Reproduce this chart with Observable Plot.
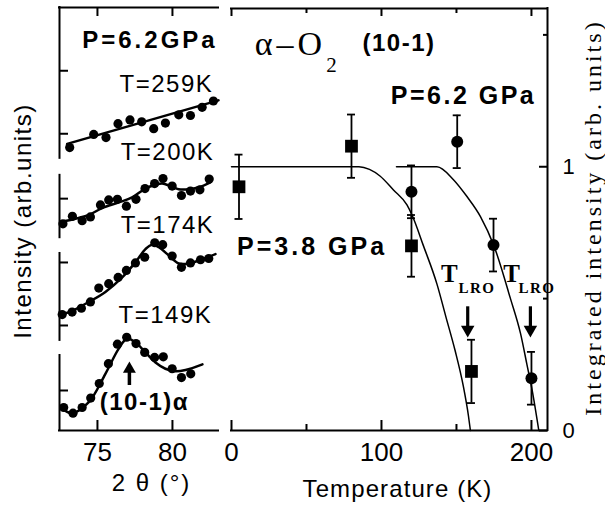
<!DOCTYPE html>
<html><head><meta charset="utf-8">
<script src="https://cdn.jsdelivr.net/npm/d3@7"></script>
<script src="https://cdn.jsdelivr.net/npm/@observablehq/plot@0.6"></script>
<style>
body{margin:0;background:#fff;}
#chart{position:relative;width:605px;height:505px;overflow:hidden;background:#fff;}
#chart svg{position:absolute;left:0;top:0;overflow:visible;}
</style></head><body><div id="chart"></div>
<script>
// ---------- LEFT PANEL DATA: diffraction scans at P=6.2GPa (2θ in °, intensity offset per scan) ----------
const scanNames = ["T=259K", "T=200K", "T=174K", "T=149K"];
const theta259 = [73.15, 74.75, 75.57, 76.37, 77.17, 77.95, 78.75, 79.53, 80.42, 81.2, 81.98, 82.73];
const int259   = [4.49, 4.70, 4.65, 4.87, 4.93, 4.90, 4.79, 4.88, 5.01, 5.00, 5.13, 5.23];
const fitTheta259 = [72.98, 83.07];
const fitInt259   = [4.55, 5.24];

const theta200 = [72.70, 73.33, 73.98, 74.53, 75.2, 75.75, 76.33, 76.93, 77.57, 78.17, 78.81, 79.37, 79.98, 80.6, 81.2, 81.83, 82.45];
const int200   = [3.28, 3.40, 3.33, 3.39, 3.58, 3.66, 3.67, 3.56, 3.67, 3.84, 3.92, 4.00, 3.88, 3.73, 3.80, 3.82, 3.99];
const fitTheta200 = [72.53, 73.53, 74.42, 75.31, 76.42, 77.31, 78.2, 78.87, 79.31, 79.87, 80.42, 81.09, 81.75, 82.53];
const fitInt200   = [3.31, 3.36, 3.42, 3.53, 3.62, 3.70, 3.84, 3.90, 3.92, 3.88, 3.83, 3.83, 3.86, 3.94];

const theta174 = [72.65, 73.31, 73.93, 74.53, 75.09, 75.75, 76.38, 76.93, 77.53, 78.15, 78.82, 79.35, 79.98, 80.6, 81.2, 81.87, 82.42];
const int174   = [1.84, 1.88, 1.94, 2.04, 2.26, 2.33, 2.43, 2.54, 2.66, 2.75, 2.98, 2.95, 2.77, 2.59, 2.66, 2.71, 2.73];
const fitTheta174 = [72.5, 73.31, 74.42, 75.53, 76.65, 77.53, 78.2, 78.65, 79.09, 79.75, 80.42, 81.09, 81.87, 82.87];
const fitInt174   = [1.83, 1.90, 2.04, 2.20, 2.43, 2.67, 2.88, 2.95, 2.91, 2.78, 2.65, 2.65, 2.71, 2.80];

const theta149 = [72.75, 73.37, 73.98, 74.55, 75.12, 75.73, 76.33, 76.95, 77.57, 78.15, 78.81, 79.39, 79.98, 80.6, 81.22];
const int149   = [0.365, 0.275, 0.365, 0.515, 0.746, 1.06, 1.37, 1.48, 1.38, 1.24, 1.16, 1.17, 0.98, 0.84, 0.90];
const fitTheta149 = [72.53, 73.31, 74.42, 75.53, 76.42, 76.98, 77.53, 78.2, 78.87, 79.53, 80.2, 80.87, 82.0];
const fitInt149   = [0.37, 0.275, 0.45, 0.90, 1.30, 1.46, 1.40, 1.24, 1.08, 0.98, 0.94, 0.96, 1.05];

const thetaDomain = [72.47, 83.07];
const leftIntDomain = [0, 6.714];
const leftAxisSegments = [[4.32, 6.714], [3.06, 4.05], [1.43, 2.81], [0, 1.19]];
const leftIntTicks = [5.71, 4.71, 3.68, 2.667, 1.667, 0.635];
const thetaTicks = [75, 80];

// ---------- RIGHT PANEL DATA: integrated intensity vs temperature ----------
const temp38 = [5, 80, 120, 160];
const int38  = [0.924, 1.078, 0.70, 0.224];
const err38  = [0.122, 0.12, 0.117, 0.12];
const temp62 = [120, 150.5, 174.7, 200];
const int62  = [0.905, 1.095, 0.703, 0.198];
const err62  = [0.10, 0.10, 0.10, 0.10];
const fitTemp38 = [0, 85, 92, 99, 108, 117, 120.5, 128, 137, 143, 149, 154.5, 158, 159.3];
const fitInt38  = [1, 1, 0.99, 0.965, 0.912, 0.855, 0.815, 0.70, 0.555, 0.43, 0.305, 0.17, 0.055, 0];
const fitTemp62 = [110, 137, 148, 157, 166, 175, 186, 192.7, 197, 200.4, 204.9];
const fitInt62  = [1, 1, 0.951, 0.887, 0.811, 0.70, 0.50, 0.368, 0.25, 0.155, 0];
const tempDomain = [0, 210.7];
const rightIntDomain = [0, 1.6];
const tempTickLabels = [0, 100, 200];
const tempMinorTicks = [50, 150];
const intTickLabels = [0, 1];
const intMinorTicks = [0.5, 1.5];

// ---------- build tables ----------
const scanDots = [[theta259, int259], [theta200, int200], [theta174, int174], [theta149, int149]]
  .flatMap(([t, v], k) => t.map((x, i) => ({scan: scanNames[k], theta: x, int: v[i]})));
const scanFits = [[fitTheta259, fitInt259], [fitTheta200, fitInt200], [fitTheta174, fitInt174], [fitTheta149, fitInt149]]
  .flatMap(([t, v], k) => t.map((x, i) => ({scan: scanNames[k], theta: x, int: v[i]})));

const pts38 = temp38.map((T, i) => ({T, I: int38[i], lo: int38[i] - err38[i], hi: int38[i] + err38[i]}));
const pts62 = temp62.map((T, i) => ({T, I: int62[i], lo: int62[i] - err62[i], hi: int62[i] + err62[i]}));
const allPts = pts38.concat(pts62);
const caps = allPts.flatMap(d => [{T: d.T, v: d.lo}, {T: d.T, v: d.hi}]);
const fits = fitTemp38.map((T, i) => ({s: "3.8", T, I: fitInt38[i]}))
  .concat(fitTemp62.map((T, i) => ({s: "6.2", T, I: fitInt62[i]})));

const SANS = "Liberation Sans, Arial, Helvetica, sans-serif";
const SERIF = "Liberation Serif, Times New Roman, serif";
const W = 605, H = 505;
const spacing = {
  "P=6.2GPa": 3, "P=6.2 GPa": 2.5, "P=3.8 GPa": 3, "(10-1)": 1.5, "(10-1)α": 1.5,
  "T=259K": 1.5, "T=200K": 1.5, "T=174K": 1.5, "T=149K": 1.5,
  "α–O": 4, "LRO": 1.5, "Integrated intensity (arb. units)": 3, "2 θ (°)": 2,
  "Intensity (arb.units)": 1.5, "Temperature (K)": 1.1
};
const label = (text, x, y, o = {}) => Plot.text([text], {x: () => x, y: () => y, text: d => d, fill: "black", lineAnchor: "middle", textAnchor: "middle", ...o});

// ---------- left panel ----------
const frameH = 430 - 7, frameWL = 218 - 59;
const left = Plot.plot({
  width: W, height: H, marginLeft: 59, marginRight: W - 218, marginTop: 7, marginBottom: H - 430,
  style: {fontFamily: SANS, fontSize: "26px", background: "transparent", color: "black"},
  x: {domain: thetaDomain},
  y: {domain: leftIntDomain, axis: null},
  marks: [
    Plot.ruleY([leftIntDomain[0], leftIntDomain[1]], {stroke: "black", strokeWidth: 2, strokeLinecap: "square"}),
    Plot.ruleX(leftAxisSegments, {x: () => thetaDomain[0], y1: d => d[0], y2: d => d[1], stroke: "black", strokeWidth: 2, strokeLinecap: "square"}),
    Plot.ruleY(leftIntTicks, {insetRight: frameWL - 9, stroke: "black", strokeWidth: 2}),
    Plot.ruleX(thetaTicks, {insetTop: frameH - 10, stroke: "black", strokeWidth: 2}),
    Plot.ruleX(thetaTicks, {insetBottom: frameH - 9, stroke: "black", strokeWidth: 2}),
    Plot.axisX(thetaTicks, {tickSize: 0, tickPadding: 12, fontSize: 26, label: null, tickFormat: d => String(d)}),
    Plot.line(scanFits, {x: "theta", y: "int", z: "scan", curve: "catmull-rom", stroke: "black", strokeWidth: 2.5}),
    Plot.dot(scanDots, {x: "theta", y: "int", r: 4.6, fill: "black"}),
    // arrow marking the (10-1)α peak
    Plot.ruleX([77.13], {y1: () => 0.714, y2: () => 0.98, stroke: "black", strokeWidth: 3.5}),
    Plot.dot([77.13], {x: d => d, y: () => 0.975, symbol: "triangle", r: 4.8, fill: "black"}),
    label("P=6.2GPa", 78.5, 6.19, {fontSize: 24, fontWeight: "bold", fontFamily: SANS}),
    label("T=259K", 79.6, 5.50, {fontSize: 24, fontFamily: SANS}),
    label("T=200K", 79.67, 4.42, {fontSize: 24, fontFamily: SANS}),
    label("T=174K", 79.67, 3.25, {fontSize: 24, fontFamily: SANS}),
    label("T=149K", 79.53, 1.83, {fontSize: 24, fontFamily: SANS}),
    label("(10-1)α", 78.13, 0.44, {fontSize: 24, fontWeight: "bold", fontFamily: SANS}),
    Plot.text(["Intensity (arb.units)"], {frameAnchor: "left", textAnchor: "middle", lineAnchor: "middle", dx: -36, dy: 2, rotate: -90, text: d => d, fontSize: 24, fontFamily: SANS, fill: "black"}),
    Plot.text(["2 θ (°)"], {frameAnchor: "bottom", textAnchor: "middle", lineAnchor: "middle", dx: 12.5, dy: 53, text: d => d, fontSize: 24, fontFamily: SANS, fill: "black"})
  ]
});

// ---------- right panel ----------
const frameHR = 430 - 8, frameWR = 547 - 231;
const right = Plot.plot({
  width: W, height: H, marginLeft: 231, marginRight: W - 547, marginTop: 8, marginBottom: H - 430,
  style: {fontFamily: SANS, fontSize: "26px", background: "transparent", color: "black"},
  x: {domain: tempDomain},
  y: {domain: rightIntDomain},
  marks: [
    Plot.ruleY([rightIntDomain[0], rightIntDomain[1]], {stroke: "black", strokeWidth: 2, strokeLinecap: "square"}),
    Plot.ruleX([tempDomain[1]], {stroke: "black", strokeWidth: 2, strokeLinecap: "square"}),
    Plot.ruleX(tempTickLabels, {insetTop: frameHR - 10, stroke: "black", strokeWidth: 2}),
    Plot.ruleX(tempMinorTicks, {insetTop: frameHR - 6, stroke: "black", strokeWidth: 2}),
    Plot.ruleX(tempTickLabels, {insetBottom: frameHR - 8, stroke: "black", strokeWidth: 2}),
    Plot.ruleX(tempMinorTicks, {insetBottom: frameHR - 5, stroke: "black", strokeWidth: 2}),
    Plot.ruleY(intTickLabels, {insetLeft: frameWR - 8, stroke: "black", strokeWidth: 2}),
    Plot.ruleY(intMinorTicks, {insetLeft: frameWR - 4, stroke: "black", strokeWidth: 2}),
    Plot.axisX(tempTickLabels, {tickSize: 0, tickPadding: 12, fontSize: 26, label: null, tickFormat: d => String(d)}),
    Plot.axisY(intTickLabels, {anchor: "right", tickSize: 0, tickPadding: 15, fontSize: 22, label: null, tickFormat: d => String(d)}),
    Plot.line(fits, {x: "T", y: "I", z: "s", curve: "monotone-x", stroke: "black", strokeWidth: 1.5}),
    Plot.ruleX(allPts, {x: "T", y1: "lo", y2: "hi", stroke: "black", strokeWidth: 1.8}),
    Plot.ruleY(caps, {y: "v", x1: "T", x2: "T", insetLeft: -4, insetRight: -4, stroke: "black", strokeWidth: 1.8}),
    Plot.dot(pts38, {x: "T", y: "I", symbol: "square", r: 7.2, fill: "black"}),
    Plot.dot(pts62, {x: "T", y: "I", r: 6, fill: "black"}),
    // T_LRO arrows
    Plot.ruleX([157.5, 199.3], {y1: () => 0.469, y2: () => 0.39, stroke: "black", strokeWidth: 3.2}),
    Plot.dot([157.5, 199.3], {x: d => d, y: () => 0.382, symbol: "triangle", rotate: 180, r: 5, fill: "black"}),
    label("α–O", 39.3, 1.465, {fontSize: 34, fontFamily: SERIF}),
    label("2", 66.7, 1.384, {fontSize: 21, fontFamily: SERIF}),
    label("(10-1)", 111.7, 1.467, {fontSize: 24, fontWeight: "bold", fontFamily: SANS}),
    label("P=6.2 GPa", 154.7, 1.268, {fontSize: 25, fontWeight: "bold", fontFamily: SANS}),
    label("P=3.8 GPa", 53.7, 0.695, {fontSize: 25, fontWeight: "bold", fontFamily: SANS}),
    label("T", 145.3, 0.593, {fontSize: 25, fontWeight: "bold", fontFamily: SERIF}),
    label("LRO", 163.7, 0.538, {fontSize: 15, fontWeight: "bold", fontFamily: SERIF}),
    label("T", 186.7, 0.593, {fontSize: 25, fontWeight: "bold", fontFamily: SERIF}),
    label("LRO", 203.7, 0.538, {fontSize: 15, fontWeight: "bold", fontFamily: SERIF}),
    Plot.text(["Temperature (K)"], {frameAnchor: "bottom", textAnchor: "middle", lineAnchor: "middle", dx: 8, dy: 59, text: d => d, fontSize: 24, fontFamily: SANS, fill: "black"}),
    Plot.text(["Integrated intensity (arb. units)"], {frameAnchor: "right", textAnchor: "middle", lineAnchor: "middle", dx: 46, dy: -2, rotate: -90, text: d => d, fontSize: 24, fontFamily: SERIF, fill: "black"})
  ]
});

const root = document.getElementById("chart");
root.appendChild(left);
root.appendChild(right);
for (const svg of [left, right]) {
  d3.select(svg).selectAll("text").each(function () {
    const s = spacing[this.textContent];
    if (s) this.style.letterSpacing = s + "px";
  });
}
</script></body></html>
